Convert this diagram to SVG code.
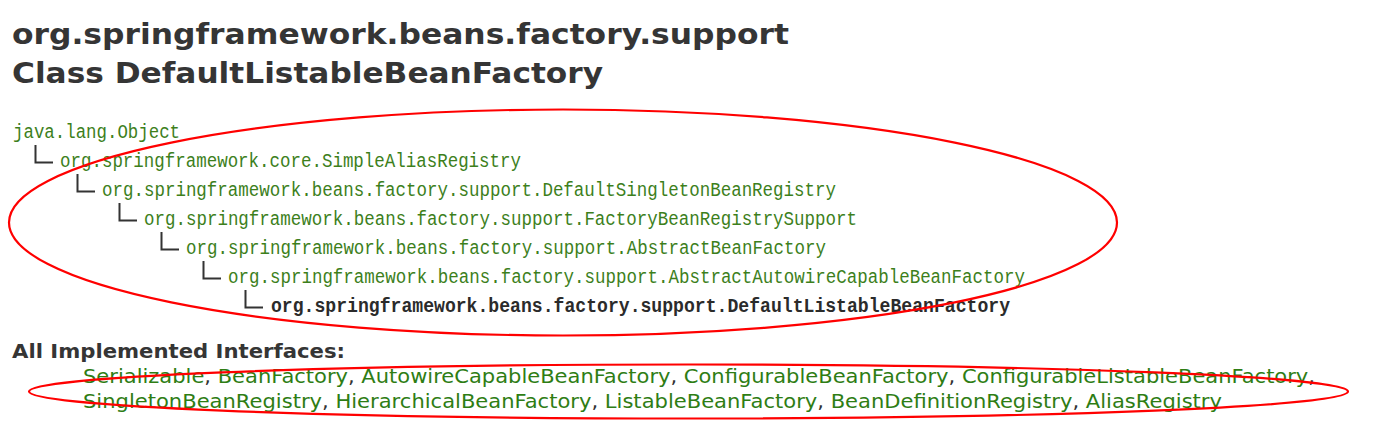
<svg xmlns="http://www.w3.org/2000/svg" width="1396" height="430" viewBox="0 0 1396 430">
<style>
.title{font-family:"DejaVu Sans","Liberation Sans",sans-serif;font-weight:bold;font-size:29px;fill:#353535}
.h{font-family:"Liberation Mono","DejaVu Sans Mono",monospace;font-size:20px;fill:#3d7f1c}
.hb{font-family:"Liberation Mono","DejaVu Sans Mono",monospace;font-size:20px;font-weight:bold;fill:#2b2b2b}
.tree{fill:none;stroke:#333;stroke-width:2}
.lbl{font-family:"DejaVu Sans","Liberation Sans",sans-serif;font-weight:bold;font-size:19px;fill:#353535}
.if{font-family:"DejaVu Sans","Liberation Sans",sans-serif;font-size:20px;fill:#333}
.lk{fill:#2e7d14}
.mark{fill:none;stroke:#ff0000;stroke-width:2.2}
</style>
<rect width="1396" height="430" fill="#fff"/>
<g id="title">
<text class="title" x="12" y="44" textLength="777" lengthAdjust="spacingAndGlyphs">org.springframework.beans.factory.support</text>
<text class="title" x="12" y="83" textLength="591" lengthAdjust="spacingAndGlyphs">Class DefaultListableBeanFactory</text>
</g>
<g id="hierarchy">
<g id="h-object"><text class="h" x="13" y="138" textLength="167" lengthAdjust="spacingAndGlyphs">java.lang.Object</text></g>
<g id="h-simplealias"><path class="tree" d="M35.5,145 V162.5 H53"/><text class="h" x="60" y="167" textLength="461" lengthAdjust="spacingAndGlyphs">org.springframework.core.SimpleAliasRegistry</text></g>
<g id="h-defaultsingleton"><path class="tree" d="M77.5,174 V191.5 H95"/><text class="h" x="102" y="196" textLength="734" lengthAdjust="spacingAndGlyphs">org.springframework.beans.factory.support.DefaultSingletonBeanRegistry</text></g>
<g id="h-factorybean"><path class="tree" d="M119.5,203 V220.5 H137"/><text class="h" x="144" y="225" textLength="713" lengthAdjust="spacingAndGlyphs">org.springframework.beans.factory.support.FactoryBeanRegistrySupport</text></g>
<g id="h-abstractbean"><path class="tree" d="M161.5,232 V249.5 H179"/><text class="h" x="186" y="254" textLength="640" lengthAdjust="spacingAndGlyphs">org.springframework.beans.factory.support.AbstractBeanFactory</text></g>
<g id="h-autowire"><path class="tree" d="M203.5,261 V278.5 H221"/><text class="h" x="228" y="283" textLength="797" lengthAdjust="spacingAndGlyphs">org.springframework.beans.factory.support.AbstractAutowireCapableBeanFactory</text></g>
<g id="h-defaultlistable"><path class="tree" d="M245.5,290 V307.5 H263"/><text class="hb" x="271" y="312" textLength="739" lengthAdjust="spacingAndGlyphs">org.springframework.beans.factory.support.DefaultListableBeanFactory</text></g>
</g>
<g id="interfaces">
<text class="lbl" x="12" y="358" textLength="333" lengthAdjust="spacingAndGlyphs">All Implemented Interfaces:</text>
<text class="if" x="83" y="383" textLength="1232" lengthAdjust="spacingAndGlyphs"><tspan class="lk">Serializable</tspan>, <tspan class="lk">BeanFactory</tspan>, <tspan class="lk">AutowireCapableBeanFactory</tspan>, <tspan class="lk">ConfigurableBeanFactory</tspan>, <tspan class="lk">ConfigurableListableBeanFactory</tspan>,</text>
<text class="if" x="83" y="408" textLength="1139" lengthAdjust="spacingAndGlyphs"><tspan class="lk">SingletonBeanRegistry</tspan>, <tspan class="lk">HierarchicalBeanFactory</tspan>, <tspan class="lk">ListableBeanFactory</tspan>, <tspan class="lk">BeanDefinitionRegistry</tspan>, <tspan class="lk">AliasRegistry</tspan></text>
</g>
<g id="highlights">
<ellipse class="mark" cx="563" cy="222.5" rx="554" ry="113"/>
<ellipse class="mark" cx="688.5" cy="391.5" rx="659.5" ry="27"/>
</g>
</svg>
